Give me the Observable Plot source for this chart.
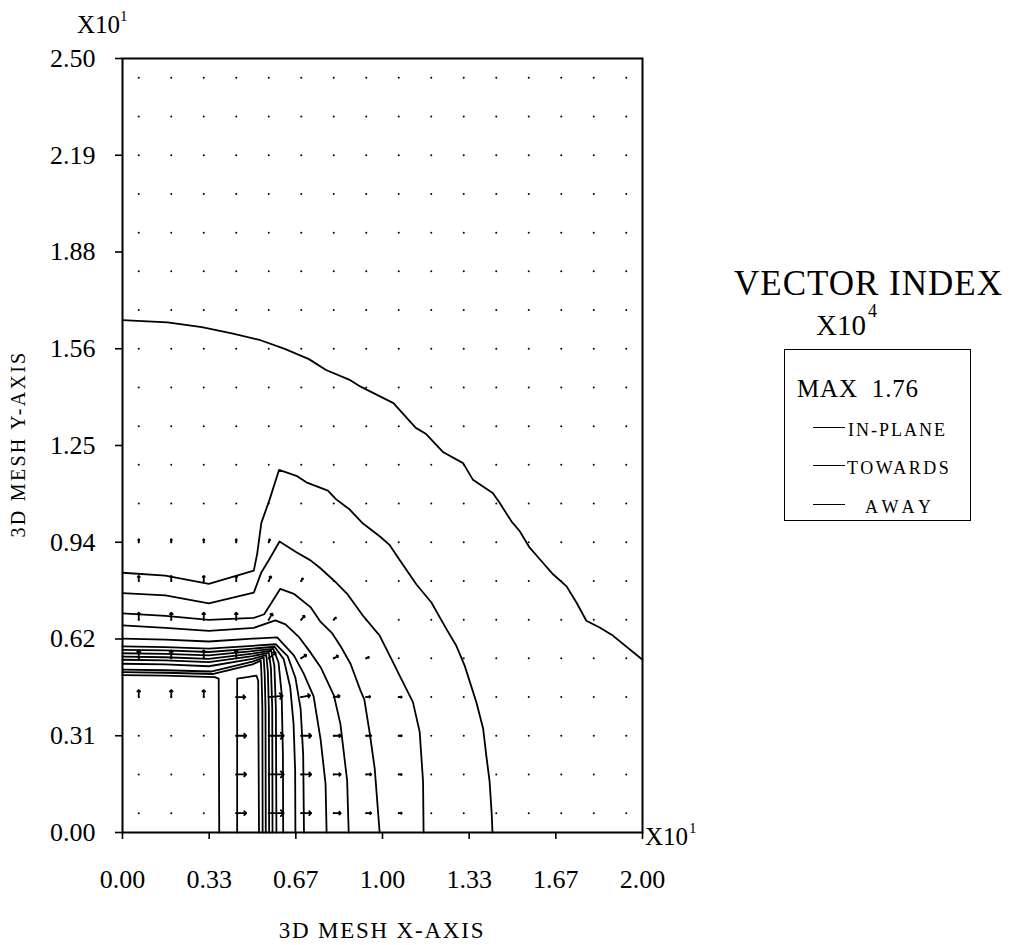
<!DOCTYPE html>
<html><head><meta charset="utf-8">
<script src="https://cdn.jsdelivr.net/npm/d3@7"></script>
<script src="https://cdn.jsdelivr.net/npm/@observablehq/plot@0.6"></script>
<style>
body{margin:0;background:#fff;}
#wrap{position:relative;width:1012px;height:945px;overflow:hidden;font-family:"Liberation Serif","Times New Roman",serif;color:#000;background:#fff;}
#wrap svg{position:absolute;left:0;top:0;}
.t{position:absolute;white-space:pre;line-height:1;}
</style></head><body><div id="wrap"></div>
<script>
// ---- axes ----
const xTicks = [0, 1/3, 2/3, 1, 4/3, 5/3, 2];
const xTickLabels = ["0.00","0.33","0.67","1.00","1.33","1.67","2.00"];
const yTicks = [0, 0.3125, 0.625, 0.9375, 1.25, 1.5625, 1.875, 2.1875, 2.5];
const yTickLabels = ["0.00","0.31","0.62","0.94","1.25","1.56","1.88","2.19","2.50"];

// ---- mesh grid (vector origins) ----
const gridCols = [0.0625,0.1875,0.3125,0.4375,0.5625,0.6875,0.8125,0.9375,1.0625,1.1875,1.3125,1.4375,1.5625,1.6875,1.8125,1.9375];
const gridRows = [0.0625,0.1875,0.3125,0.4375,0.5625,0.6875,0.8125,0.9375,1.0625,1.1875,1.3125,1.4375,1.5625,1.6875,1.8125,1.9375,2.0625,2.1875,2.3125,2.4375];

// ---- visible vectors (grid col, grid row, length px, direction deg clockwise from up) ----
const vecCol   = [0,1,2,3, 0,1,2,3, 0,1,2,3, 0,1,2,3, 0,1,2,  4, 4,5, 4,5,6, 4,5,6,7, 3,4,5,6,7,8, 3,4,5,6,7,8, 3,4,5,6,7,8, 3,4,5,6,7,8];
const vecRow   = [7,7,7,7, 6,6,6,6, 5,5,5,5, 4,4,4,4, 3,3,3,  7, 6,6, 5,5,5, 4,4,4,4, 3,3,3,3,3,3, 2,2,2,2,2,2, 1,1,1,1,1,1, 0,0,0,0,0,0];
const vecLen   = [3,3,3,3, 5,5,5,5, 7,7,7,7, 8,8,8,8, 7,7,7,  3, 5,3, 7,5,3, 9,6,5,3, 9,14,9,6,4,3, 10,15,10,7,5,3, 10,15,10,7,5,3, 10,15,10,7,5,3];
const vecAngle = [0,0,0,0, 0,0,0,0, 0,0,0,0, 0,0,0,0, 0,0,0,  20, 25,30, 30,40,45, 50,55,60,65, 90,85,80,80,85,90, 90,90,90,90,90,90, 90,90,90,90,90,90, 90,90,90,90,90,90];

// ---- contour lines [x, y] ----
const c1 = [[0,1.655],[0.173,1.648],[0.305,1.632],[0.425,1.611],[0.531,1.590],[0.624,1.562],[0.717,1.529],[0.783,1.494],[0.876,1.461],[0.916,1.440],[1.042,1.387],[1.128,1.307],[1.168,1.287],[1.234,1.228],[1.310,1.193],[1.348,1.139],[1.425,1.096],[1.451,1.064],[1.496,1.005],[1.528,0.973],[1.566,0.920],[1.611,0.877],[1.656,0.834],[1.707,0.796],[1.746,0.743],[1.784,0.684],[1.835,0.662],[1.886,0.636],[2.0,0.558]];
const c2 = [[0,0.839],[0.165,0.830],[0.332,0.803],[0.505,0.846],[0.518,0.900],[0.534,1.0],[0.566,1.076],[0.602,1.171],[0.669,1.152],[0.707,1.131],[0.790,1.104],[0.822,1.076],[0.874,1.043],[0.925,0.998],[0.989,0.957],[1.028,0.928],[1.066,0.880],[1.130,0.802],[1.188,0.743],[1.246,0.657],[1.284,0.603],[1.316,0.539],[1.361,0.421],[1.387,0.336],[1.399,0.250],[1.412,0.164],[1.420,0.06],[1.423,0]];
const c3 = [[0,0.773],[0.165,0.766],[0.332,0.740],[0.505,0.775],[0.534,0.840],[0.563,0.880],[0.604,0.940],[0.669,0.905],[0.723,0.879],[0.759,0.855],[0.813,0.814],[0.864,0.771],[0.925,0.700],[0.989,0.636],[1.034,0.561],[1.066,0.507],[1.117,0.421],[1.143,0.325],[1.156,0.164],[1.158,0]];
const c4 = [[0,0.708],[0.165,0.700],[0.332,0.687],[0.505,0.693],[0.545,0.705],[0.607,0.787],[0.659,0.771],[0.723,0.728],[0.762,0.680],[0.805,0.645],[0.840,0.600],[0.877,0.545],[0.915,0.459],[0.930,0.430],[0.951,0.320],[0.970,0.207],[0.989,0]];
const c5 = [[0,0.669],[0.165,0.661],[0.332,0.651],[0.505,0.661],[0.588,0.685],[0.627,0.672],[0.680,0.630],[0.720,0.585],[0.762,0.534],[0.813,0.443],[0.838,0.351],[0.864,0.168],[0.870,0]];
const c6 = [[0,0.626],[0.165,0.623],[0.332,0.617],[0.500,0.626],[0.595,0.630],[0.659,0.572],[0.697,0.513],[0.735,0.440],[0.762,0.300],[0.781,0.157],[0.785,0]];
const c7 = [[0,0.601],[0.165,0.599],[0.332,0.594],[0.500,0.603],[0.590,0.608],[0.635,0.570],[0.665,0.500],[0.685,0.400],[0.695,0.250],[0.698,0]];
const c8 = [[0,0.590],[0.165,0.588],[0.332,0.583],[0.500,0.594],[0.585,0.600],[0.620,0.560],[0.645,0.470],[0.658,0.350],[0.664,0.200],[0.665,0]];
const b1 = [[0,0.579],[0.165,0.577],[0.332,0.572],[0.500,0.586],[0.580,0.593],[0.600,0.550],[0.612,0.450],[0.617,0.250],[0.618,0]];
const b2 = [[0,0.568],[0.165,0.566],[0.332,0.561],[0.500,0.578],[0.572,0.587],[0.584,0.540],[0.590,0.400],[0.592,0]];
const b3 = [[0,0.558],[0.165,0.556],[0.332,0.550],[0.500,0.570],[0.563,0.580],[0.571,0.530],[0.576,0.400],[0.577,0]];
const b4 = [[0,0.545],[0.165,0.543],[0.332,0.537],[0.500,0.561],[0.553,0.573],[0.559,0.520],[0.563,0.400],[0.564,0]];
const b5 = [[0,0.526],[0.165,0.524],[0.340,0.520],[0.500,0.552],[0.543,0.565],[0.547,0.510],[0.550,0.400],[0.551,0]];
const b6 = [[0,0.518],[0.165,0.516],[0.350,0.512],[0.500,0.543],[0.532,0.555],[0.535,0.500],[0.538,0.400],[0.539,0]];
const innerLoop = [[0.441,0],[0.441,0.497],[0.480,0.502],[0.515,0.507],[0.522,0.490],[0.525,0]];
const innerL = [[0,0.508],[0.165,0.507],[0.355,0.502],[0.370,0.497],[0.372,0]];

// ---- legend texts ----
const legendTitle = "VECTOR INDEX";
const legendScale = ["X10", "4"];
const legendMax = "MAX  1.76";
const legendItems = ["IN-PLANE", "TOWARDS", "AWAY"];
const axisScale = ["X10", "1"];
const xTitle = "3D MESH X-AXIS";
const yTitle = "3D MESH Y-AXIS";

// ---- build tables ----
const contourList = [c1,c2,c3,c4,c5,c6,c7,c8,b1,b2,b3,b4,b5,b6,innerLoop,innerL];
const lineData = contourList.flatMap((pts, id) => pts.map(([x, y]) => ({id, x, y})));
const gridPts = gridRows.flatMap(y => gridCols.map(x => ({x, y})));
const vecData = vecCol.map((c, i) => ({x: gridCols[c], y: gridRows[vecRow[i]], len: vecLen[i], angle: vecAngle[i]}));

const chart = Plot.plot({
  width: 1012, height: 945,
  marginLeft: 122, marginRight: 370, marginTop: 58, marginBottom: 113,
  style: {background: "white", color: "black", fontFamily: "'Liberation Serif', 'Times New Roman', serif", fontSize: "26px"},
  x: {domain: [0, 2], ticks: xTicks, tickFormat: d => xTickLabels[xTicks.indexOf(d)], tickSize: 7, tickPadding: 30, label: null},
  y: {domain: [0, 2.5], ticks: yTicks, tickFormat: d => yTickLabels[yTicks.indexOf(d)], tickSize: 7, tickPadding: 20, label: null},
  length: {type: "linear", domain: [0, 16], range: [0, 16]},
  marks: [
    Plot.dot(gridPts, {x: "x", y: "y", r: 1, fill: "black", stroke: null}),
    Plot.vector(vecData, {x: "x", y: "y", length: "len", rotate: "angle", anchor: "start", stroke: "black", strokeWidth: 1.8}),
    Plot.line(lineData, {x: "x", y: "y", z: "id", stroke: "black", strokeWidth: 1.8}),
    Plot.frame({stroke: "black", strokeWidth: 2})
  ]
});
const wrap = document.getElementById("wrap");
wrap.appendChild(chart);
chart.querySelectorAll('g[aria-label$="tick"] path, g[aria-label="x-axis"] path, g[aria-label="y-axis"] path').forEach(p => p.setAttribute("stroke-width", "1.6"));

// ---- text overlays ----
function place(text, left, baseline, fs, extra = {}) {
  const d = document.createElement("div");
  d.className = "t";
  d.textContent = text;
  d.style.left = left + "px";
  d.style.top = (baseline - 0.8375 * fs) + "px";
  d.style.fontSize = fs + "px";
  Object.assign(d.style, extra);
  wrap.appendChild(d);
  return d;
}
place(axisScale[0], 77, 33, 25);
place(axisScale[1], 120, 22, 15);
place(axisScale[0], 645, 845, 25);
place(axisScale[1], 689, 834, 15);
place(xTitle, 382, 938, 23, {transform: "translateX(-50%)", letterSpacing: "1.8px"});
const yt = place(yTitle, 0, 0, 20, {letterSpacing: "2.3px"});
yt.style.left = "18px"; yt.style.top = "444px";
yt.style.transform = "translate(-50%,-50%) rotate(-90deg)";

place(legendTitle, 734, 295, 35, {letterSpacing: "1px"});
place(legendScale[0], 816, 335, 29);
place(legendScale[1], 868, 317, 18);
const box = document.createElement("div");
Object.assign(box.style, {position: "absolute", left: "784px", top: "349px", width: "185px", height: "170px", border: "1.5px solid black"});
wrap.appendChild(box);
place(legendMax, 797, 397, 25, {letterSpacing: "0.8px"});
const itemLeft = [848, 847, 865];
const itemBase = [436, 474, 513];
const itemSpace = ["2px", "2.5px", "5px"];
legendItems.forEach((s, i) => {
  const ln = document.createElement("div");
  Object.assign(ln.style, {position: "absolute", left: "813px", width: "32px", top: (itemBase[i] - 9) + "px", borderTop: "1.5px solid black"});
  wrap.appendChild(ln);
  place(s, itemLeft[i], itemBase[i], 18, {letterSpacing: itemSpace[i]});
});
</script></body></html>
